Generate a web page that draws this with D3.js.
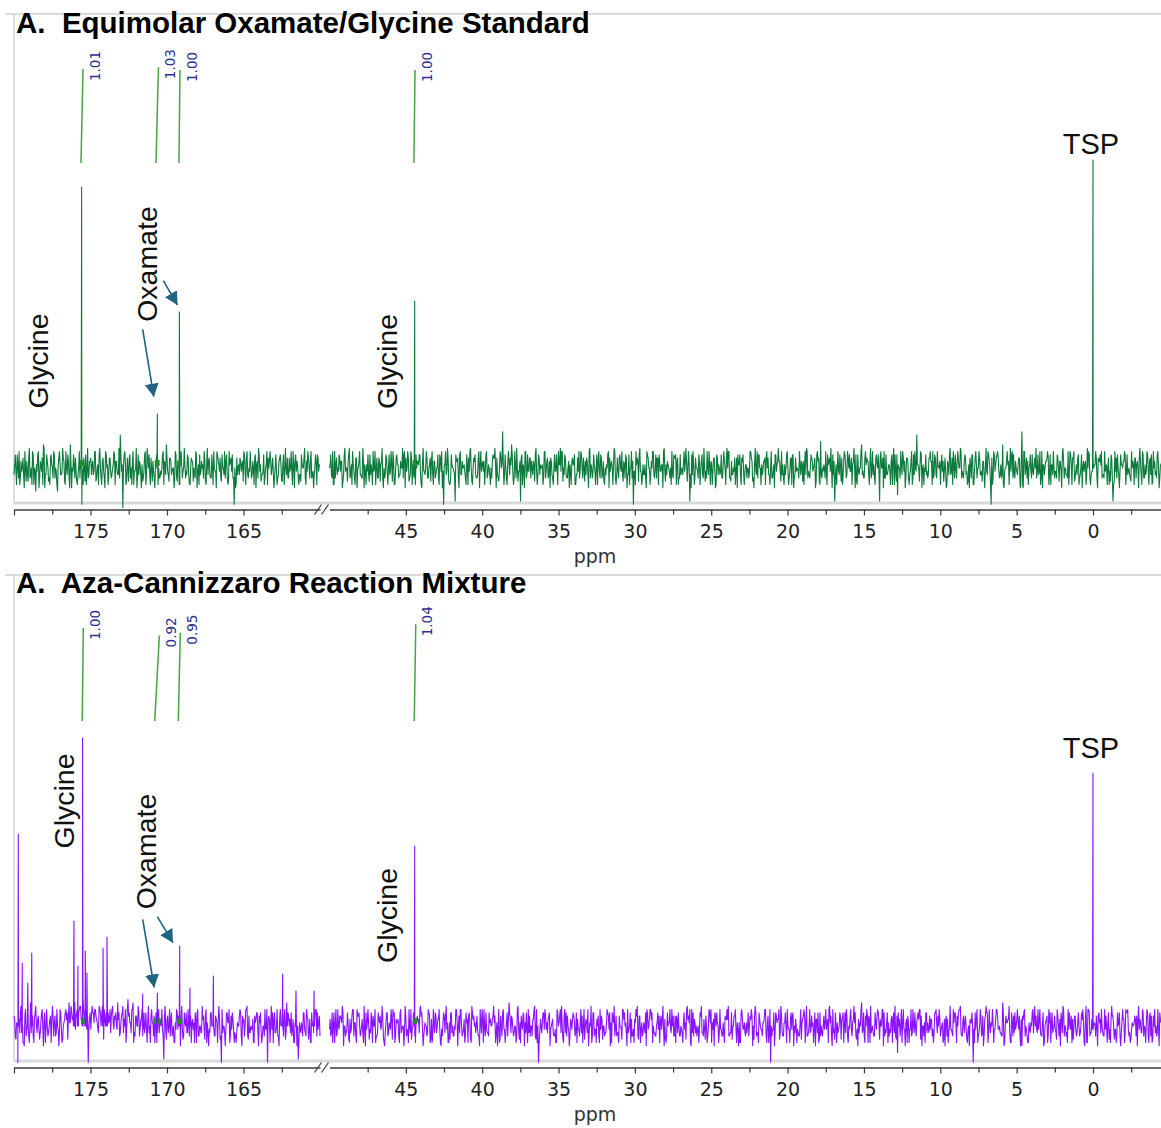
<!DOCTYPE html>
<html>
<head>
<meta charset="utf-8">
<script src="https://cdn.jsdelivr.net/npm/d3@7"></script>
<style>
  body { margin: 0; background: #fff; }
  svg { display: block; }
</style>
</head>
<body>
<svg id="chart" width="1161" height="1128"></svg>
<script>
// ---------------- data ----------------
const panelTitles = ["A.\u00a0 Equimolar Oxamate/Glycine Standard", "A.\u00a0 Aza-Cannizzaro Reaction Mixture"];
const axisLabel = "ppm";
// carbonyl window and aliphatic window of the 13C spectrum (ppm)
const leftWindow = [180, 160];
const rightWindow = [50, -4.5];
const leftTicks = [180, 177.5, 175, 172.5, 170, 167.5, 165, 162.5];
const leftLabels = [175, 170, 165];
const rightTicks = [47.5, 45, 42.5, 40, 37.5, 35, 32.5, 30, 27.5, 25, 22.5, 20, 17.5, 15, 12.5, 10, 7.5, 5, 2.5, 0, -2.5];
const rightLabels = [45, 40, 35, 30, 25, 20, 15, 10, 5, 0];

// resolved signals: [ppm, intensity]
const peaksStd = [[175.58, 281], [170.63, 54], [169.19, 156], [44.42, 167], [0, 308]];
const peaksMix = [[179.72, 192], [179.46, 63], [179.1, 43], [178.84, 73], [176.08, 105], [175.82, 60],
  [175.52, 288], [175.34, 75], [175.23, 53], [174.18, 78], [173.92, 89], [171.59, 32], [170.63, 33],
  [169.17, 80], [168.5, 38], [166.97, 50], [162.44, 52], [161.57, 35], [160.39, 35], [44.42, 180], [0, 253]];

// integral regions: [from ppm, to ppm, normalised integral]
const integralsStd = [[175.62, 175.49, 1.01], [170.72, 170.56, 1.03], [169.22, 169.15, 1.00], [44.47, 44.40, 1.00]];
const integralsMix = [[175.54, 175.47, 1.00], [170.80, 170.50, 0.92], [169.26, 169.13, 0.95], [44.45, 44.35, 1.04]];

// baseline noise, one letter per point, "m" = zero level; the "B" rows sit half a point later
const noiseStdLeft = ["kqhnrjlpgm","oiskhqmflr","jnptgkoihq","mrjlfpnkso","hmqjtglnpi","krobhmqljo","pnkrimhsjo","lgqnkpjmrh",
  "okswlaqnim","pjhrlmgqok","njqhsmkpil","gormjkqhnt","lipkmgrjoh","qnlsjkphmo","ikrgnqlmjp","hsokjmrlgq",
  "npimkjqhro","ljbgpmkoni","qhrjlnkmpg","oslikqjnhm","rkpgmljoqi","nhskjpmlrg","qojkinmshl","pjrkgmoqln"].join("");
const noiseStdLeftB = ["nlqjhomkri","kpjmrhlnqg","olhskqmjpn","jqmhnrklpi","rkognmqjlh","mjqlpihsko","kolrjnqmhp","jrmhplknqo",
  "lkjqnmrhpi","qmohlsjkng","ilrkpqhmoj","nqhjlmrokp","kpolmjqinh","rjmnlqkhpo","mjqlhkonri","nkpjqhmlro",
  "ljqmrokinp","qjmhknplor","lpkmrjohqn","jqnklhmrpo","omljqhkpni","qkmpjlrhno","lnhkqmpjor","mojlkqhpnk"].join("");
const noiseStdRight = ["mqjhrnklpo","gksmiqjnrl","hpmokjsgln","qiklrmhpjo","nsgjqlmkri","ohpnjkmsqg","lrikpnjhmo","qkgslmpjni",
  "rhokmjqlgb","nksihqmlco","pgrkmnjqhl","simokjpgrn","lhqjnkmops","gkirmxhqjn","optkjmsilc","qngrklpjmo",
  "ishqkmnjrl","pkgojmlqhn","srikpjmglo","nqhkljrmpi","kogsnjqlmh","rjpkimnqgl","ohsjklpmri","nqgkhmjblr",
  "pisljkngqm","horkmjpqln","gsiknlmrjp","qohjkmnlsi","rcgknjmlqh","oksijmrhnl","pgqkmljnoh","srjikmplgn",
  "qhoklnmjrp","igskjqmnlo","hrpkmjlgqn","soikjnmrhl","pqgklmjnoi","hrsjkmplng","qoiujlmrhn","psgkcnmlqi",
  "hoqjrmlpns","giqkmtljrp","ohslkjpnqc","rmgjqknloh","sqiemjnrlg","pohlrjkmwn","irgnmqlkpo","hjqkrmonli",
  "pgokslhnqj","rmsjkoplig","nqhlrjmpki","ogskqmbhrl","prlkjtgmon","hsqjkolnpg","xgrmjhnlqk","pslkrjgnmo",
  "rhqnkmljpi","ogsjmkrlqh","pilkqjmgon","hsrjklmnpg","oqrkjlnmhi","pciljmgqno","rhqlkimnpj","ogskrjnlqh",
  "pqimkjrgno"].join("");
const noiseStdRightB = ["nkrhjpmqlo","iqlmoskhnj","pgmrkjonhl","kqnhlrmjpi","ojmkphqlnr","hlqnkomjrp","mpjrhlkqon","qhnlkrjmpo",
  "kojmqhprln","rlphjnmkqo","jqkomlhnpr","mhpqjkrnlo","olrkmhjqpn","pjlqnokmhr","knqhrjmlop","hmrjqlpokn",
  "qlkpnmhrjo","jopkhqlmrn","lrmqkjonhp","nhkprlqjmo","pkrjmlnhqo","lqjohkmrpn","mnrhpjqlko","jpkqmrolhn",
  "oqlhnkjrpm","kmrjqpholn","rlnomjhkqp","hpjqlkronm","nkqrhpmjol","qjmlrknohp","lhpnkqjrmo","mrjoklhpqn",
  "kpqhnjmlro","jnlrqmhkop","pmkhrjnqlo","olrnhkqmjp","hqjpmlrkno","nkrljqompi","rphkmnjlqo","lmqojhrknp",
  "jrnkpqlhom","qhlmrkjpno","kojrnhqmlp","mprjklnhqo","hlqnmrkpoj","pjkohqrlnm","nqmhlkjpro","rkpjnmhqol",
  "lhnqkprjmo","omrljqkhnp","jqhpnmrklo","kmlrohpjqn","qpjnkhlmro","nlrqjmkpho","hrkpomqjln","mjqlhrnkop",
  "pkhnrjlqmo","lqomkjhrnp","rjnphkqmlo","kmqhlonrjp","onjkrmhplq","jhrpqklnmo","qlkmjrohpn","mpnhqjkrlo",
  "khrolqmjnp"].join("");
const noiseMixLeft = ["pjnboqkhgr","lqhtmjoskp","inrgqlmkoh","sjpkmgrlin","qoitnrpslq","prsnuqtlbo","lsqrpnkrms","ioqsnrpslo",
  "mtqkpsorlu","qnrtkpmsjo","rlkqhsmpnj","hqkromlcsi","pmjqkhnrlo","gsiqmkrjpn","lhoqjmkspi","rngkqmljoh",
  "sibkmgqnrj","lohjkmpqgn","jrsikmlhpo","qgnkjmrlbp","hsqokmjgrn","lpitqmkjoh","rgcnkmqljp","iohmkprqnj"].join("");
const noiseMixLeftB = ["oimqkslhpj","rjnkphqmol","kqlohrjmpn","pnjrlkqhmo","rqpnsoqtpr","qsopqnrpmq","pqnrolsqpn","rmpqokrnpq",
  "lojnqkmhrp","nkrhjpmqlo","jqmlokhrnp","mhqknrjplo","krojmhlqpn","pljnqkmrho","nqhrjmkolp","hklqmrjpno",
  "ojrmklqnhp","qlkhnmrjpo","mrjpklohnq","kpqhmjlrno","nlhqkrjomp","jrkmpoqlhn","pmhlnjqkro","khqnmrjlpo"].join("");
const noiseMixRight = ["ljqnhrkmpo","sgmkqiolrj","nhpqjmksgl","rikopmhjqn","lsjgnqkmri","phonjqkmgs","jlrkimphon","ksqglmjrpi",
  "hrkpmolgjq","ksnhiqmjlr","gprmkojnhq","isomkpjgnr","hlqkjnmosp","kgrimqlhnj","toplkmjsih","nqgklrpmjo",
  "sihbkmnqrl","kpgmojlhqn","rsipkjmgol","qnkhljrpmi","okgnsjqlhm","jrpimknqlg","hosljkpmir","qngkmhjlor",
  "sipljnkgqm","rohkjmqpnl","sgikmnlrpj","hoqjmknlis","prgkjnmlhq","skoimjrnhl","gpqmkljnho","rsjkimplng",
  "hqolknmjpr","gisjkqmlno","rhpkbjlgqn","oiskjnmrlh","qpgkmljnio","rhsjmkpnlg","oqijkmlrnh","spgkimnlqi",
  "ohqrjmplns","qigkmtljpr","hoslkjnpqi","mrgjkqnloh","qsiemjrnlg","ophljrkmnq","rigmnqklpo","jhqrkmolni",
  "gpoksljnqh","mrsjokpilg","nqbhlrjmpk","gosqkmnrhl","rplkjtgmno","shqjklonpg","gormjhlnqk","spklrjngmo",
  "hrqnkmlipj","gosjmkrqlh","iplkqjmong","shrjklnmpg","qorkjlmnih","spiljmqgno","hrqlkinmpj","gsokrjlnqh",
  "qpimkjrgon"].join("");
const noiseMixRightB = ["okhqmjrlpn","qmjlnhkprn","jrpmkohlqn","nlqhmrjkop","mphkqjnlor","qjnohrlmkp","khmrlqjnpo","rpljnmkqho",
  "jmqkorhlnp","plhnqkjmro","mkrjlhqopn","hqpnmljrko","rjlkqompnh","nmhpjrlkqo","qkojmhrlnp","lpnqhkjmor",
  "jrmhokqlpn","oqlnkjhrmp","kmhrqpljno","pjqolnkhrm","nrkmhqjlop","hlomjkrpqn","qnjpkhmlro","mkrlqojhnp",
  "jphnkmqrlo","rqmkjnlhpo","lohqnrkmjp","pkmjlhqnro","nhrqokjmlp","kjlphmqrno","qmnhrljkpo","ojkqmprhln",
  "hrlnjkqmop","mpqkholjnr","jnhrmlqkpo","rkpjnqhmlo","lqmohkjrnp","pnjkrlmhqo","khqmjpnlor","njrlqhkmpo",
  "qmkphlrjon","jlonrkqhmp","phkmjqlrno","mrqlnhjkpo","kjpqomhrln","hnlrkmqjpo","rpmjhqnklo","lkqnprjmho",
  "ojhmlkrqnp","qrkjpnlhmo","nmlqohkrjp","jpqhrkmnlo","rlmkjqhpno","khnpqmrljo","pqjlhnkmro","mlrokjqhnp",
  "jnhqlpkrmo","qkrmjhlnpo","lpjnmkqrho","hrqkolnjmp","nkmjrphqlo","pmlhqnjkro","kqrjhlmnop","olnkqmhrjp",
  "jhprmklqno"].join("");

// ---------------- layout ----------------
const svg = d3.select("#chart");
const defs = svg.append("defs");
const arrowColor = "#1f6283";
defs.append("marker")
  .attr("id", "arrowHead")
  .attr("viewBox", "0 0 13 14")
  .attr("refX", 13).attr("refY", 7)
  .attr("markerWidth", 13).attr("markerHeight", 14)
  .attr("markerUnits", "userSpaceOnUse")
  .attr("orient", "auto")
  .append("path").attr("d", "M0,0 L13,7 L0,14 Z").attr("fill", arrowColor);

const xL = d3.scaleLinear().domain(leftWindow).range([14, 320]);
const xR = d3.scaleLinear().domain(rightWindow).range([329.5, 1161.7]);
const xOf = p => (p >= 100 ? xL(p) : xR(p));

const zeroCode = "m".charCodeAt(0);
const noiseStep = 3.3;
const decode = s => Array.from(s, c => (c.charCodeAt(0) - zeroCode) * noiseStep);

// noise rows A and B (half-step shifted) merged with the peak spikes, ordered by ppm
function segmentPoints(noiseA, noiseB, win, peaks) {
  const a = decode(noiseA), b = decode(noiseB);
  const n = a.length;
  const at = k => win[0] + (win[1] - win[0]) * k / (n - 1);
  const pts = a.map((v, i) => ({ ppm: at(i), v }))
    .concat(b.filter((v, i) => i + 0.5 <= n - 1).map((v, i) => ({ ppm: at(i + 0.5), v })));
  const hi = Math.max(win[0], win[1]), lo = Math.min(win[0], win[1]);
  peaks.filter(p => p[0] <= hi && p[0] >= lo).forEach(([p, h]) => {
    pts.push({ ppm: p + 0.03, v: 0 }, { ppm: p, v: h }, { ppm: p - 0.03, v: 0 });
  });
  pts.sort((p, q) => q.ppm - p.ppm);
  return pts;
}

const panels = [
  {
    title: panelTitles[0], offset: 0, frameTop: 14, titleY: 33, color: "#0b7a3b",
    noise: [[noiseStdLeft, noiseStdLeftB, leftWindow], [noiseStdRight, noiseStdRightB, rightWindow]],
    peaks: peaksStd, integrals: integralsStd,
    labels: [
      { text: "Glycine", x: 48, y: 361, rotate: true },
      { text: "Glycine", x: 397, y: 361.5, rotate: true },
      { text: "Oxamate", x: 157, y: 264, rotate: true },
      { text: "TSP", x: 1091, y: 153.5, rotate: false }
    ],
    arrows: [[142.7, 329.3, 153.8, 396.7], [163.3, 280.7, 177.5, 305]]
  },
  {
    title: panelTitles[1], offset: 558, frameTop: 17, titleY: 35, color: "#8a12ff",
    noise: [[noiseMixLeft, noiseMixLeftB, leftWindow], [noiseMixRight, noiseMixRightB, rightWindow]],
    peaks: peaksMix, integrals: integralsMix,
    labels: [
      { text: "Glycine", x: 74, y: 243, rotate: true },
      { text: "Glycine", x: 397, y: 357.5, rotate: true },
      { text: "Oxamate", x: 155.5, y: 293.5, rotate: true },
      { text: "TSP", x: 1091, y: 200, rotate: false }
    ],
    arrows: [[142.7, 361.3, 154.2, 429.5], [157.3, 358.7, 173, 384.7]]
  }
];

panels.forEach(pn => {
  const g = svg.append("g").attr("transform", `translate(0,${pn.offset})`);
  const y = d3.scaleLinear().domain([0, 300]).range([468, 168]);
  const yInt = d3.scaleLinear().domain([0, 1]).range([163, 70]);

  // plot frame
  g.append("line").attr("x1", 5).attr("x2", 1161).attr("y1", pn.frameTop).attr("y2", pn.frameTop)
    .attr("stroke", "#cfcfcf").attr("stroke-width", 1.5);
  g.append("line").attr("x1", 14).attr("x2", 14).attr("y1", pn.frameTop).attr("y2", 503)
    .attr("stroke", "#cfcfcf").attr("stroke-width", 1.5);
  g.append("line").attr("x1", 14).attr("x2", 1161).attr("y1", 503).attr("y2", 503)
    .attr("stroke", "#d9d9d9").attr("stroke-width", 3);

  // title
  g.append("text").attr("x", 16).attr("y", pn.titleY)
    .attr("font-family", "'Liberation Sans', Arial, sans-serif").attr("font-weight", "bold")
    .attr("font-size", 29.5).attr("fill", "#000").text(pn.title);

  // spectrum trace, one path per window
  const line = d3.line().x(d => xOf(d.ppm)).y(d => y(d.v));
  pn.noise.forEach(([na, nb, win]) => {
    g.append("path").attr("d", line(segmentPoints(na, nb, win, pn.peaks)))
      .attr("fill", "none").attr("stroke", pn.color).attr("stroke-width", 1.1)
      .attr("stroke-linejoin", "round");
  });

  // integral curves with their values
  pn.integrals.forEach(([from, to, val]) => {
    g.append("line")
      .attr("x1", xOf(from)).attr("y1", yInt(0))
      .attr("x2", xOf(to)).attr("y2", yInt(val))
      .attr("stroke", "#4aa346").attr("stroke-width", 1.5);
    [from, to].forEach(p => {
      g.append("rect").attr("x", xOf(p) - 1.2).attr("y", y(0) - 8).attr("width", 2.4).attr("height", 6)
        .attr("fill", "#1f8f2c");
    });
    const lx = xOf(to) + 16.5, ly = yInt(val) + 12;
    g.append("text").attr("transform", `translate(${lx},${ly}) rotate(-90)`)
      .attr("font-family", "'DejaVu Sans', Verdana, sans-serif").attr("font-size", 13.5)
      .attr("fill", "#2d2f94").text(d3.format(".2f")(val));
  });

  // compound labels
  pn.labels.forEach(l => {
    const t = g.append("text")
      .attr("font-family", "'Liberation Sans', Arial, sans-serif").attr("font-size", l.rotate ? 28.5 : 29)
      .attr("fill", "#111").attr("text-anchor", "middle").text(l.text);
    if (l.rotate) t.attr("transform", `translate(${l.x},${l.y}) rotate(-90)`);
    else t.attr("x", l.x).attr("y", l.y);
  });

  // arrows
  pn.arrows.forEach(([x1, y1, x2, y2]) => {
    g.append("line").attr("x1", x1).attr("y1", y1).attr("x2", x2).attr("y2", y2)
      .attr("stroke", arrowColor).attr("stroke-width", 1.6).attr("marker-end", "url(#arrowHead)");
  });

  // axes
  const axisY = 509.5;
  [[xL, leftTicks, leftLabels], [xR, rightTicks, rightLabels]].forEach(([sc, ticks, labels]) => {
    const fmt = d => (labels.includes(d) ? d3.format("d")(d) : "");
    const ax = g.append("g").attr("transform", `translate(0,${axisY})`)
      .call(d3.axisBottom(sc).tickValues(ticks).tickSize(6).tickSizeOuter(0).tickPadding(9).tickFormat(fmt));
    ax.select(".domain").attr("stroke", "#3a3a3a").attr("stroke-width", 1.4);
    ax.selectAll(".tick line").attr("stroke", "#3a3a3a").attr("stroke-width", 1.2)
      .attr("y2", d => (d % 5 === 0 ? 6 : 5));
    ax.selectAll(".tick text").attr("font-family", "'DejaVu Sans', Verdana, sans-serif")
      .attr("font-size", 19).attr("fill", "#222");
  });
  // axis break marks
  [318, 325].forEach(bx => {
    g.append("line").attr("x1", bx - 3.5).attr("y1", axisY + 5).attr("x2", bx + 3.5).attr("y2", axisY - 5)
      .attr("stroke", "#3a3a3a").attr("stroke-width", 1.2);
  });
  g.append("text").attr("x", 595).attr("y", 563).attr("text-anchor", "middle")
    .attr("font-family", "'DejaVu Sans', Verdana, sans-serif").attr("font-size", 19)
    .attr("fill", "#333").text(axisLabel);
});
</script>
</body>
</html>
